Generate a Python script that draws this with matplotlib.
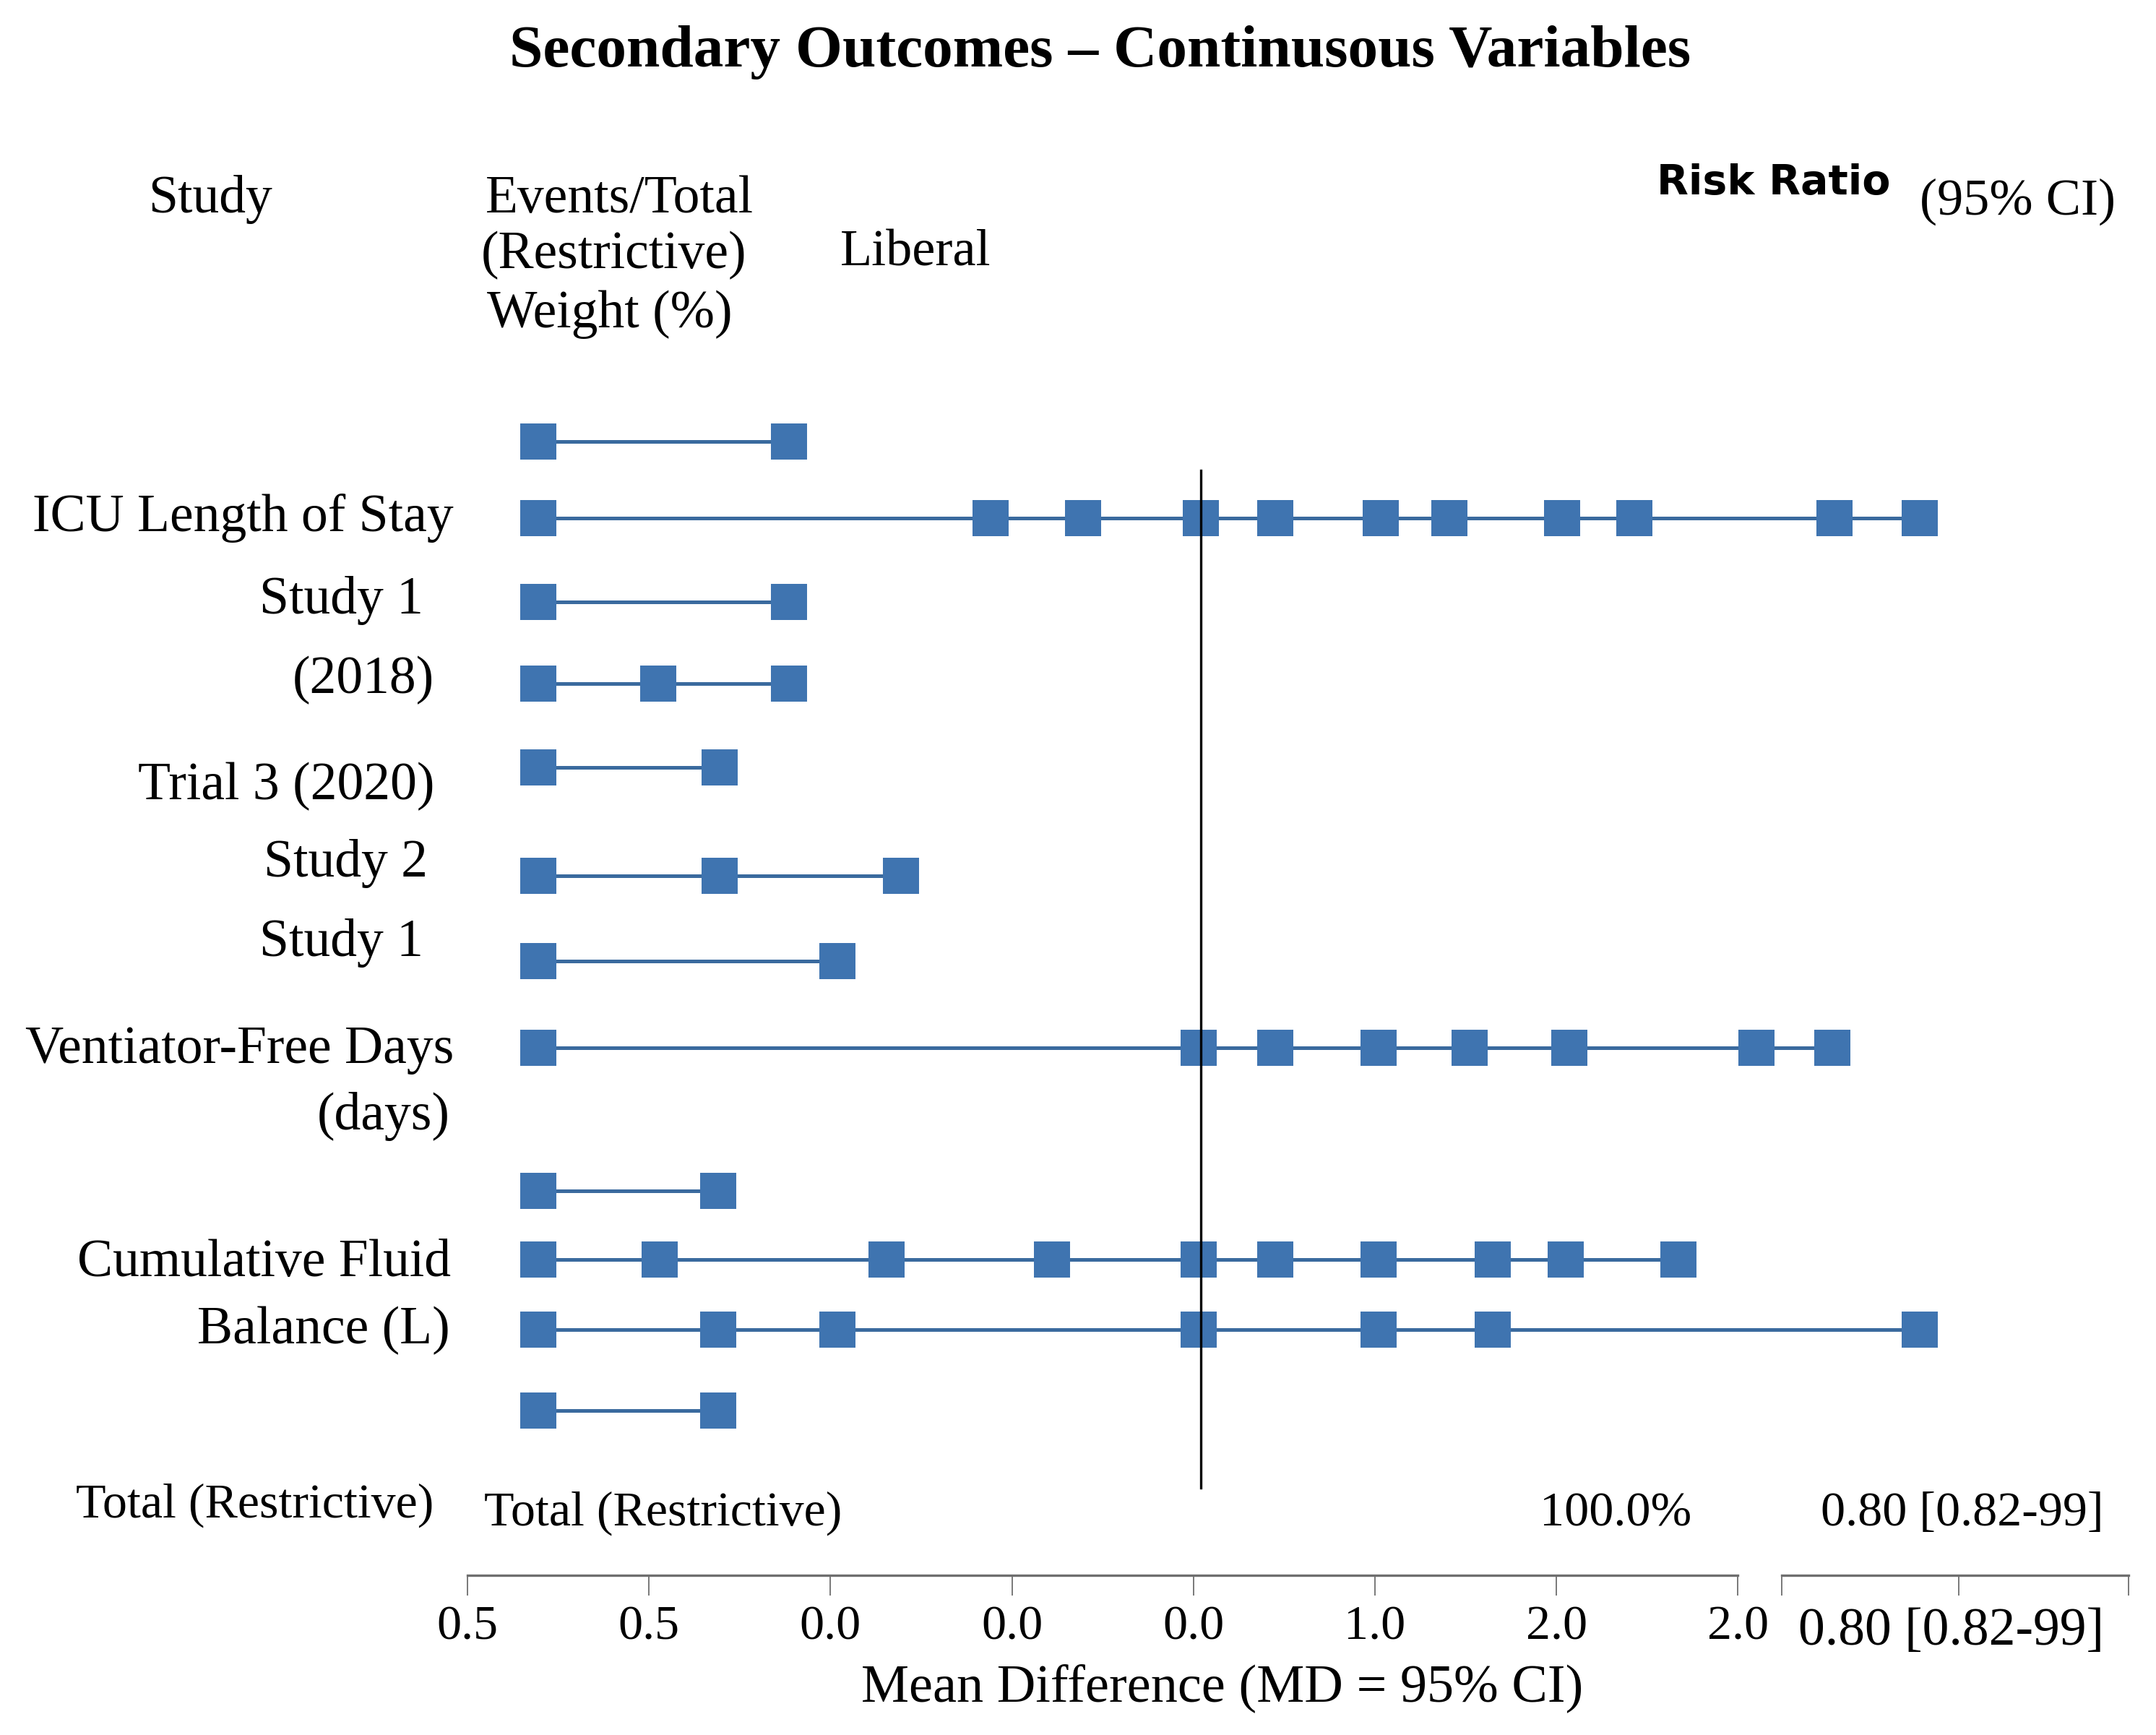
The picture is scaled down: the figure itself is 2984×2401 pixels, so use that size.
import matplotlib
matplotlib.use("Agg")
import matplotlib.pyplot as plt

# ---------------- data ----------------
title = "Secondary Outcomes \u2013 Continusous Variables"
study_labels = ["ICU Length of Stay", "Study 1", "(2018)", "Trial 3 (2020)",
                "Study 2", "Study 1", "Ventiator-Free Days", "(days)",
                "Cumulative Fluid", "Balance (L)"]

# point estimates per plotted row, in units of the mean-difference axis (tick index)
row_points = [
    [0.39, 1.77],
    [0.39, 2.88, 3.39, 4.04, 4.45, 5.03, 5.41, 6.03, 6.43, 7.53, 8.00],
    [0.39, 1.77],
    [0.39, 1.05, 1.77],
    [0.39, 1.39],
    [0.39, 1.39, 2.39],
    [0.39, 2.04],
    [0.39, 4.03, 4.45, 5.02, 5.52, 6.07, 7.10, 7.52],
    [0.39, 1.38],
    [0.39, 1.06, 2.31, 3.22, 4.03, 4.45, 5.02, 5.65, 6.05, 6.67],
    [0.39, 1.38, 2.04, 4.03, 5.02, 5.65, 8.00],
    [0.39, 1.38],
]
null_line = 4.04
md_tick_labels = ["0.5", "0.5", "0.0", "0.0", "0.0", "1.0", "2.0", "2.0"]
total_weight = "100.0%"
total_rr = "0.80 [0.82-99]"
rr_axis_label = "0.80 [0.82-99]"
xlabel = "Mean Difference (MD = 95% CI)"

# ---------------- layout (reference picture units, 1568 x 1262) ----------------
W, H = 1568.0, 1262.0
row_y = [321, 377, 438, 497, 558, 637, 699, 762, 866, 916, 967, 1026]
label_xr = [330, 308, 316, 316, 311, 308, 330, 327, 328, 327]
label_y = [377, 437, 495, 572, 628, 686, 764, 812, 919, 968]


def P(x, y):
    return x / W, 1 - y / H


SERIF = ["Liberation Serif", "DejaVu Serif"]
BLUE = "#3F74B0"
LINE_BLUE = "#3A6A9E"
AXGRAY = "#6E6E6E"

fig = plt.figure(figsize=(29.84, 24.01), dpi=100)
fig.patch.set_facecolor("white")

# main forest axes: x 0..7 spans the MD axis
x0, x1 = 340, 1264
yb, yt = 1146, 300
ax = fig.add_axes([x0 / W, 1 - yb / H, (x1 - x0) / W, (yb - yt) / H])
ax.set_xlim(0, 7)
ax.set_ylim(yb, yt)
ax.patch.set_alpha(0)
for s in ["top", "right", "left"]:
    ax.spines[s].set_visible(False)
ax.spines["bottom"].set_color(AXGRAY)
ax.spines["bottom"].set_linewidth(2.4)
ax.set_yticks([])
ax.set_xticks(range(len(md_tick_labels)))
ax.set_xticklabels(md_tick_labels, fontsize=49, family=SERIF)
ax.tick_params(axis="x", direction="out", length=20, width=1.3, color=AXGRAY, pad=10)

for y, pts in zip(row_y, row_points):
    ax.plot(pts, [y] * len(pts), color=LINE_BLUE, lw=3.6, solid_capstyle="butt",
            zorder=2, clip_on=False)
    ax.plot(pts, [y] * len(pts), ls="none", marker="s", ms=36, mew=0,
            color=BLUE, zorder=3, clip_on=False)

ax.plot([null_line, null_line], [342, 1082], color="black", lw=2.4, zorder=4,
        clip_on=False)

# second (risk ratio) axis
r0, r1 = 1296, 1548
ax2 = fig.add_axes([r0 / W, 1 - yb / H, (r1 - r0) / W, 0.01])
ax2.set_xlim(0, 1)
ax2.patch.set_alpha(0)
for s in ["top", "right", "left"]:
    ax2.spines[s].set_visible(False)
ax2.spines["bottom"].set_color(AXGRAY)
ax2.spines["bottom"].set_linewidth(2.4)
ax2.set_yticks([])
ax2.set_xticks([0, 0.51, 1])
ax2.set_xticklabels(["", "", ""])
ax2.tick_params(axis="x", direction="out", length=20, width=1.3, color=AXGRAY)

# ---------------- texts ----------------
fig.text(*P(800, 38), title, ha="center", va="center", fontsize=60,
         fontweight="bold", family=SERIF)

fig.text(*P(108, 145), "Study", ha="left", va="center", fontsize=53, family=SERIF)
fig.text(*P(353, 145), "Events/Total", ha="left", va="center", fontsize=53, family=SERIF)
fig.text(*P(350, 186), "(Restrictive)", ha="left", va="center", fontsize=53, family=SERIF)
fig.text(*P(354, 229), "Weight (%)", ha="left", va="center", fontsize=53, family=SERIF)
fig.text(*P(611, 184), "Liberal", ha="left", va="center", fontsize=52, family=SERIF)
fig.text(*P(1205, 133), "Risk Ratio", ha="left", va="center", fontsize=41,
         fontweight="bold", family=["DejaVu Sans"])
fig.text(*P(1396, 147), "(95% CI)", ha="left", va="center", fontsize=52, family=SERIF)

for lab, xr, y in zip(study_labels, label_xr, label_y):
    fig.text(*P(xr, y), lab, ha="right", va="center", fontsize=53, family=SERIF)

fig.text(*P(55, 1095), "Total (Restrictive)", ha="left", va="center", fontsize=49, family=SERIF)
fig.text(*P(352, 1101), "Total (Restrictive)", ha="left", va="center", fontsize=49, family=SERIF)
fig.text(*P(1230, 1101), total_weight, ha="right", va="center", fontsize=49, family=SERIF)
fig.text(*P(1530, 1101), total_rr, ha="right", va="center", fontsize=49, family=SERIF)

fig.text(*P(1419, 1187), rr_axis_label, ha="center", va="center", fontsize=53, family=SERIF)
fig.text(*P(889, 1228), xlabel, ha="center", va="center", fontsize=53.5, family=SERIF)

fig.savefig("out.png", dpi=100, facecolor="white")
